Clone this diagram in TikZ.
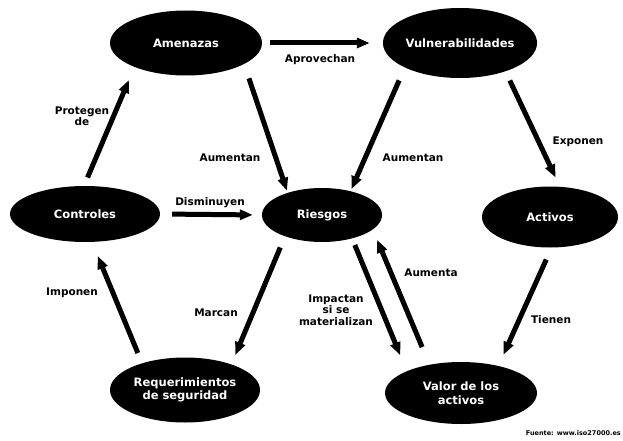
\documentclass[tikz,border=0pt]{standalone}
\usepackage{fontspec}
\setmainfont{DejaVu Sans}
\usetikzlibrary{shapes.geometric,arrows.meta}
\begin{document}
\begin{tikzpicture}[x=1pt,y=-1pt,
  ell/.style={ellipse, fill=black, text=white, font=\fontsize{11.5}{13.5}\selectfont\bfseries, align=center, inner sep=0pt},
  lbl/.style={font=\fontsize{10.5}{11.5}\selectfont\bfseries, align=center, inner sep=0pt},
  arr/.style={draw=black, line width=5pt, -{Triangle[length=13pt,width=10pt]}}
]
\useasboundingbox (0,0) rectangle (623,441);
% nodes
\node[ell, minimum width=152pt, minimum height=65pt] (am) at (186,43) {Amenazas};
\node[ell, minimum width=154pt, minimum height=70pt] (vu) at (460,43) {Vulnerabilidades};
\node[ell, minimum width=150pt, minimum height=56pt] (co) at (85,214) {Controles};
\node[ell, minimum width=120pt, minimum height=54pt] (ri) at (322,215) {Riesgos};
\node[ell, minimum width=136pt, minimum height=61pt] (ac) at (550,217) {Activos};
\node[ell, minimum width=150pt, minimum height=65pt] (rq) at (185,390) {Requerimientos\\de seguridad};
\node[ell, minimum width=152pt, minimum height=62pt] (va) at (461,393) {Valor de los\\activos};
% connectors
\draw[arr, shorten <=8pt, shorten >=13pt] (am.east) -- (vu.west);
\draw[arr, shorten <=9pt, shorten >=14pt] (co.92) -- (am.-155);
\draw[arr, shorten <=15pt, shorten >=2pt] (am.-20) -- (ri.147);
\draw[arr, shorten <=14pt, shorten >=2pt] (vu.-156) -- (ri.40);
\draw[arr, shorten <=10pt, shorten >=10pt] (vu.-32) -- (ac.72);
\draw[arr, shorten <=12pt, shorten >=9pt] (co.east) -- (ri.west);
\draw[arr, shorten <=11pt, shorten >=15pt] (rq.148) -- (co.-76);
\draw[arr, shorten <=12pt, shorten >=10pt] (ri.-150) -- (rq.29);
\draw[arr, shorten <=7pt, shorten >=17pt] (ri.-38) -- (va.158);
\draw[arr, shorten <=19pt, shorten >=11pt] (va.138) -- (ri.-16);
\draw[arr, shorten <=13pt, shorten >=12pt] (ac.-87) -- (va.36);
% labels
\node[lbl] (l1) at (320,60) {Aprovechan};
\node[lbl] (l2) at (82,116) {Protegen\\de};
\node[lbl] (l3) at (230,158) {Aumentan};
\node[lbl] (l4) at (210,203) {Disminuyen};
\node[lbl] (l5) at (413,158) {Aumentan};
\node[lbl] (l6) at (578,142) {Exponen};
\node[lbl] (l7) at (72,293) {Imponen};
\node[lbl] (l8) at (216,313) {Marcan};
\node[lbl] (l9) at (336,310) {Impactan\\si se\\materializan};
\node[lbl] (l10) at (431,273) {Aumenta};
\node[lbl] (l11) at (551,320) {Tienen};
\node[font=\fontsize{6.5}{8}\selectfont\bfseries, anchor=east, inner sep=0pt] (src) at (621,433) {Fuente: www.iso27000.es};
\end{tikzpicture}
\end{document}
